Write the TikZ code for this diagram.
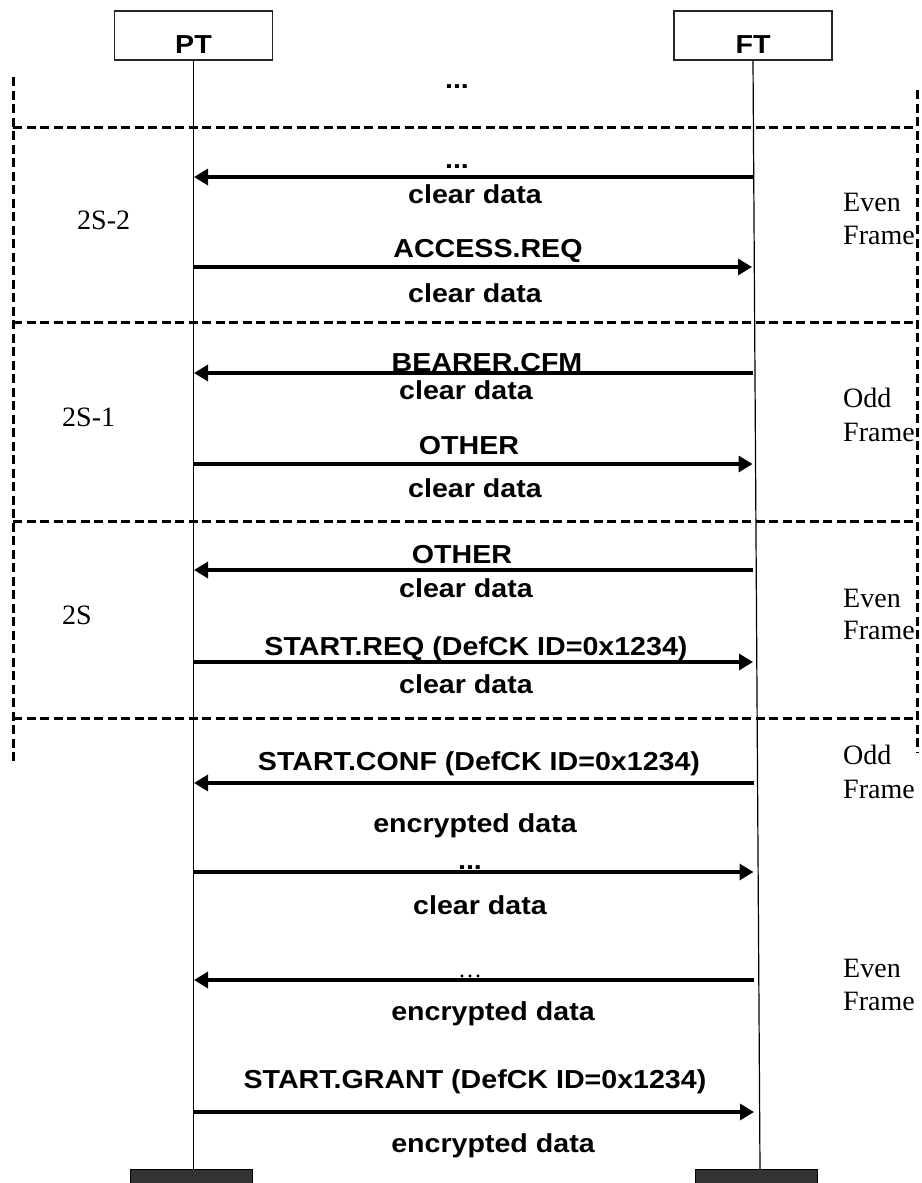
\documentclass[tikz,border=0pt]{standalone}
\usepackage{fontspec}
\setmainfont{Liberation Serif}
\newfontfamily\msgfont[FakeStretch=1.1]{Liberation Sans}
\usetikzlibrary{arrows.meta}
\definecolor{boxgray}{HTML}{333333}
\begin{document}
\begin{tikzpicture}[x=1pt,y=-1pt,
  msg/.style={font=\msgfont\bfseries\fontsize{26}{30}\selectfont, anchor=base, inner sep=0pt},
  side/.style={font=\fontsize{28}{32}\selectfont, anchor=base west, inner sep=0pt},
  dots/.style={font=\fontsize{24}{28}\selectfont, anchor=base, inner sep=0pt},
  sep/.style={line width=3pt, dash pattern=on 9pt off 4.5pt},
  life/.style={line width=1.2pt},
  sig/.style={line width=3.3pt, -{Triangle[length=14pt,width=16pt]}},
  ent/.style={draw=black!85, line width=1.3pt, minimum width=158pt, minimum height=49pt, inner sep=0pt},
  endbox/.style={draw=black, fill=boxgray, line width=1pt, minimum width=122pt, minimum height=42pt, inner sep=0pt}
]
\useasboundingbox (0,0) rectangle (921,1183);

% entities
\node[ent] (pt) at (193.5,35.5) {};
\node[msg] (ptname) at (193.5,53) {PT};
\node[ent] (ft) at (753,35.5) {};
\node[msg] (ftname) at (753,53) {FT};
\node[endbox] (ptbot) at (191,1190) {};
\node[endbox] (ftbot) at (756,1190) {};
\coordinate (ptfoot) at (193.5,1169);
\coordinate (ftfoot) at (760,1169);
\draw[life] (pt.south) -- (ptfoot);
\draw[life] (ft.south) -- (ftfoot);

% frame separators
\draw[sep] (13,77) -- (13,762);
\draw[sep] (917,90) -- (917,752);
\draw[sep] (13,127) -- (917,127);
\draw[sep] (13,322) -- (917,322);
\draw[sep] (13,521) -- (917,521);
\draw[sep] (13,718) -- (917,718);

% arrow end points
\coordinate (p1) at (194,177);  \coordinate (f1) at (753,177);
\coordinate (p2) at (193.5,267); \coordinate (f2) at (752,267);
\coordinate (p3) at (194,373);  \coordinate (f3) at (753,373);
\coordinate (p4) at (193.5,464); \coordinate (f4) at (752.6,464);
\coordinate (p5) at (194,570);  \coordinate (f5) at (753,570);
\coordinate (p6) at (193.5,662); \coordinate (f6) at (753,662);
\coordinate (p7) at (194,783);  \coordinate (f7) at (753.5,783);
\coordinate (p8) at (193.5,872); \coordinate (f8) at (753.5,872);
\coordinate (p9) at (194,980);  \coordinate (f9) at (754,980);
\coordinate (p10) at (193.5,1112); \coordinate (f10) at (754,1112);

\draw[sig] (f1) -- (p1);
\draw[sig] (p2) -- (f2);
\draw[sig] (f3) -- (p3);
\draw[sig] (p4) -- (f4);
\draw[sig] (f5) -- (p5);
\draw[sig] (p6) -- (f6);
\draw[sig] (f7) -- (p7);
\draw[sig] (p8) -- (f8);
\draw[sig] (f9) -- (p9);
\draw[sig] (p10) -- (f10);

% message labels
\node[msg] (t0) at (457,88) {...};
\node[msg] (t1a) at (457,168) {...};
\node[msg] (t1b) at (475,203) {clear data};
\node[msg] (t2a) at (488,257) {ACCESS.REQ};
\node[msg] (t2b) at (475,302) {clear data};
\node[msg] (t3a) at (487,371) {BEARER.CFM};
\node[msg] (t3b) at (466,399) {clear data};
\node[msg] (t4a) at (469,454) {OTHER};
\node[msg] (t4b) at (475,497) {clear data};
\node[msg] (t5a) at (462,563) {OTHER};
\node[msg] (t5b) at (466,597) {clear data};
\node[msg] (t6a) at (476,655) {START.REQ (DefCK ID=0x1234)};
\node[msg] (t6b) at (466,693) {clear data};
\node[msg] (t7a) at (479,770) {START.CONF (DefCK ID=0x1234)};
\node[msg] (t7b) at (475,832) {encrypted data};
\node[msg] (t8a) at (470,869) {...};
\node[msg] (t8b) at (480,914) {clear data};
\node[dots] (t9a) at (470,977) {…};
\node[msg] (t9b) at (493,1020) {encrypted data};
\node[msg] (t10a) at (475,1088) {START.GRANT (DefCK ID=0x1234)};
\node[msg] (t10b) at (493,1152) {encrypted data};

% slot numbers
\node[side] (s1) at (77,229) {2S-2};
\node[side] (s2) at (62,426) {2S-1};
\node[side] (s3) at (62,624) {2S};

% frame parity
\node[side] (e1a) at (843,211) {Even};
\node[side] (e1b) at (843,244) {Frame};
\node[side] (o1a) at (843,407) {Odd};
\node[side] (o1b) at (843,441) {Frame};
\node[side] (e2a) at (843,607) {Even};
\node[side] (e2b) at (843,639) {Frame};
\node[side] (o2a) at (843,764) {Odd};
\node[side] (o2b) at (843,798) {Frame};
\node[side] (e3a) at (843,977) {Even};
\node[side] (e3b) at (843,1010) {Frame};
\end{tikzpicture}
\end{document}
